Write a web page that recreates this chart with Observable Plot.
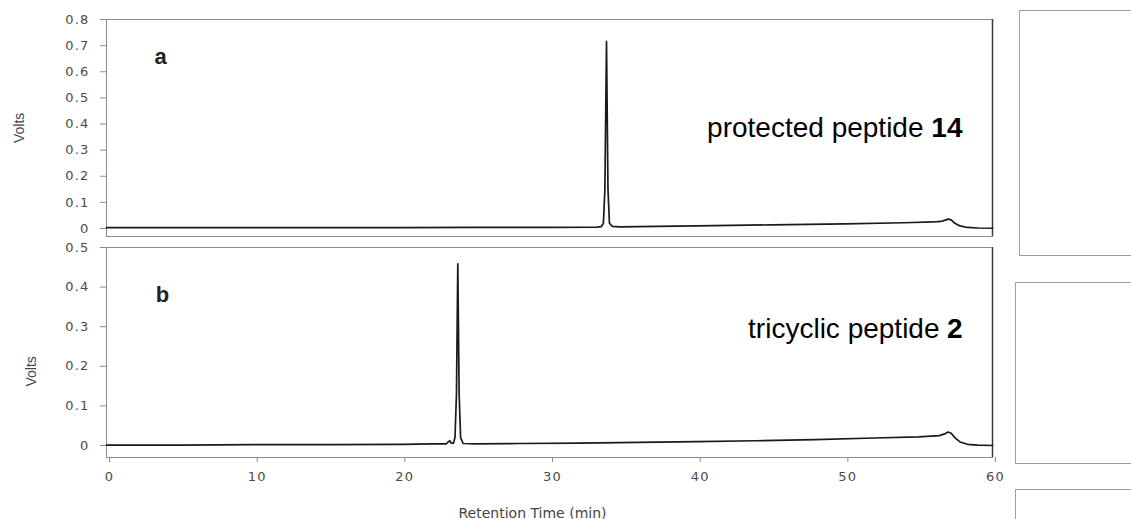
<!DOCTYPE html>
<html><head><meta charset="utf-8">
<script src="https://cdn.jsdelivr.net/npm/d3@7"></script>
<script src="https://cdn.jsdelivr.net/npm/@observablehq/plot@0.6"></script>
<style>
html,body{margin:0;padding:0;background:#fff;}
#wrap{position:relative;width:1131px;height:519px;overflow:hidden;background:#fff;}
#wrap svg{position:absolute;}
</style></head><body><div id="wrap"></div>
<script>
// ---- data ----
const timeA  = [0, 5, 10, 15, 20, 25, 30, 33.2, 33.5, 33.65, 33.75, 33.86, 33.96, 34.06, 34.25, 34.8, 36, 40, 45, 50, 54, 56, 56.5, 56.8, 57.0, 57.2, 57.45, 57.8, 58.3, 59, 60];
const voltsA = [0.003, 0.003, 0.003, 0.003, 0.003, 0.004, 0.004, 0.005, 0.007, 0.02, 0.15, 0.716, 0.15, 0.02, 0.008, 0.006, 0.007, 0.010, 0.014, 0.018, 0.022, 0.025, 0.027, 0.032, 0.036, 0.033, 0.02, 0.01, 0.004, 0.002, 0.001];
const timeB  = [0, 5, 10, 15, 20, 22, 23.0, 23.15, 23.25, 23.35, 23.5, 23.6, 23.7, 23.79, 23.88, 23.98, 24.15, 25, 28, 32, 36, 40, 44, 48, 52, 55, 56.4, 56.8, 57.0, 57.2, 57.45, 57.8, 58.3, 59, 60];
const voltsB = [0.001, 0.001, 0.002, 0.002, 0.003, 0.004, 0.004, 0.009, 0.012, 0.006, 0.006, 0.02, 0.13, 0.459, 0.13, 0.02, 0.005, 0.004, 0.005, 0.006, 0.008, 0.010, 0.012, 0.015, 0.019, 0.022, 0.025, 0.03, 0.034, 0.031, 0.02, 0.009, 0.003, 0.001, 0.0];
const xTicks  = [0, 10, 20, 30, 40, 50, 60];
const yTicksA = [0, 0.1, 0.2, 0.3, 0.4, 0.5, 0.6, 0.7, 0.8];
const yTicksB = [0, 0.1, 0.2, 0.3, 0.4, 0.5];
const panelLetters = ["a", "b"];
const compoundNames = ["protected peptide", "tricyclic peptide"];
const compoundNumbers = ["14", "2"];
const yLabel = "Volts";
const xLabel = "Retention Time (min)";

const seriesA = timeA.map((t, i) => ({t, v: voltsA[i]}));
const seriesB = timeB.map((t, i) => ({t, v: voltsB[i]}));

const wrap = document.getElementById("wrap");
const sans = "'Liberation Sans', Arial, sans-serif";
const axisFont = "'DejaVu Sans', Verdana, sans-serif";
const fmt = d => String(d);

function place(svg, left, top) {
  svg.style.left = left + "px";
  svg.style.top = top + "px";
  svg.querySelectorAll('g[aria-label*="tick label"] text, g[aria-label*="tick label"]').forEach(el => {
    el.style.fontSize = "13px";
    el.style.letterSpacing = "1.2px";
  });
  wrap.appendChild(svg);
}

function panel(o) {
  const marks = [
    Plot.frame({stroke: "#8c8c8c"}),
    Plot.ruleX([60], {stroke: "#3a3a3a", strokeWidth: 1.5}),
    Plot.axisY({ticks: o.yTicks, tickFormat: fmt, tickSize: 6, tickPadding: 11, label: null, stroke: "#8a8a8a", fill: "#4a4a4a"}),
    Plot.line(o.data, {x: "t", y: "v", stroke: "#1a1a1a", strokeWidth: 1.7}),
    Plot.text([o.letter], {text: d => d, frameAnchor: "top-left", dx: o.letterDx, dy: o.letterDy, fontSize: 22, fontWeight: "bold", fontFamily: sans, fill: "#222", textAnchor: "middle"}),
    Plot.text([o.name], {text: d => d, frameAnchor: "top-right", dx: o.nameDx, dy: o.nameDy, fontSize: 28, fontFamily: sans, fill: "#000", textAnchor: "end"}),
    Plot.text([o.num], {text: d => d, frameAnchor: "top-right", dx: -30, dy: o.nameDy, fontSize: 28, fontWeight: "bold", fontFamily: sans, fill: "#000", textAnchor: "end"}),
    Plot.text([yLabel], {text: d => d, frameAnchor: "left", rotate: -90, dx: o.ylDx, dy: o.ylDy, fontSize: 14, fontFamily: sans, fill: "#444"})
  ];
  if (o.xAxis) {
    marks.push(Plot.axisX({ticks: xTicks, tickFormat: fmt, tickSize: 5, tickPadding: 9, label: null, stroke: "#8a8a8a", fill: "#4a4a4a", dx: 3}));
    marks.push(Plot.text([xLabel], {text: d => d, frameAnchor: "bottom", lineAnchor: "top", dx: -17, dy: 51, fontSize: 14, fontFamily: axisFont, fill: "#444", letterSpacing: 1}));
  }
  return Plot.plot({
    width: 1000, height: o.height,
    marginLeft: 106, marginRight: 8, marginTop: o.mt, marginBottom: o.mb,
    style: {background: "transparent", fontFamily: axisFont, overflow: "visible"},
    x: {domain: [0, 60], axis: null},
    y: {domain: o.yDomain, axis: null},
    marks
  });
}

place(panel({
  data: seriesA, yTicks: yTicksA, yDomain: [-0.0306, 0.8], height: 240, mt: 19, mb: 4,
  letter: panelLetters[0], letterDx: 54, letterDy: 29,
  name: compoundNames[0], num: compoundNumbers[0], nameDx: -69, nameDy: 98,
  ylDx: -87, ylDy: 15, xAxis: false
}), 0, 0);

place(panel({
  data: seriesB, yTicks: yTicksB, yDomain: [-0.0303, 0.5], height: 279, mt: 7, mb: 62,
  letter: panelLetters[1], letterDx: 56, letterDy: 39,
  name: compoundNames[1], num: compoundNumbers[1], nameDx: -53, nameDy: 71,
  ylDx: -75, ylDy: 34, xAxis: true
}), 0, 240);

// cropped neighbouring panels on the right edge
function box(w, h) {
  return Plot.plot({width: w, height: h, margin: 1, style: {background: "transparent"},
    marks: [Plot.frame({stroke: "#a0a0a0"})]});
}
place(box(200, 247), 1018, 9);
place(box(200, 183), 1014, 281);
place(box(200, 100), 1014, 488);
</script></body></html>
